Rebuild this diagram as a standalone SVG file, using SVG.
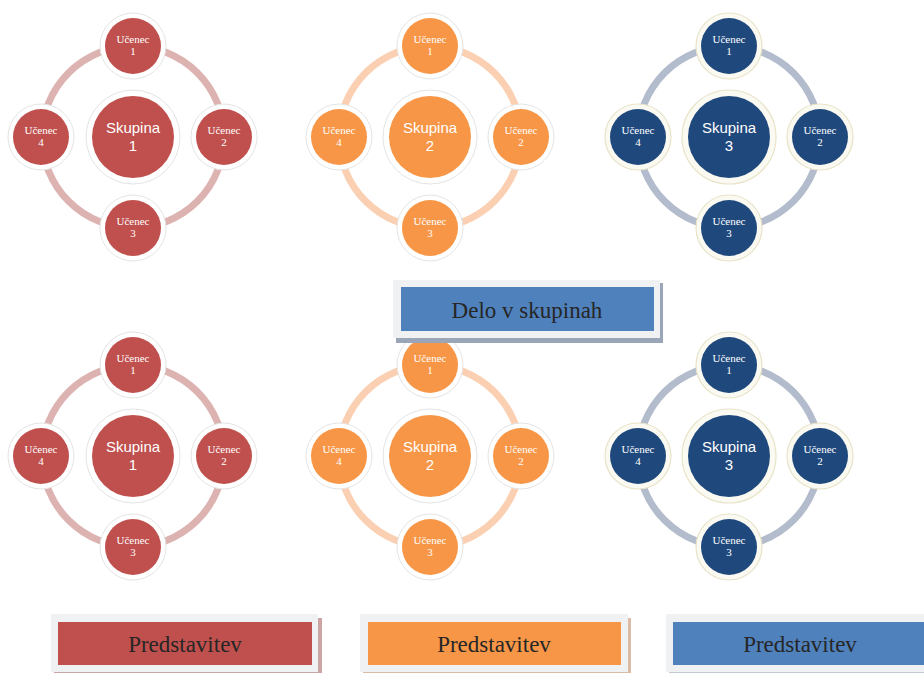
<svg xmlns="http://www.w3.org/2000/svg" width="924" height="673" viewBox="0 0 924 673">
<style>
.halo{fill:#ffffff;stroke:#e4e4e4;stroke-width:1}
.haloB{fill:#fbfaf2;stroke:#e8e3c8;stroke-width:1.2}
.red{fill:#c0504d}
.org{fill:#f79646}
.blu{fill:#1f497d}
.ringR{fill:none;stroke:#ddb3b2;stroke-width:7}
.ringO{fill:none;stroke:#fbd0b2;stroke-width:7}
.ringB{fill:none;stroke:#b3bccc;stroke-width:7}
.sk{font-family:"Liberation Sans",Arial,sans-serif;font-size:15px;fill:#ffffff;text-anchor:middle}
.uc{font-family:"Liberation Serif","Times New Roman",serif;font-size:11px;fill:#ffffff;text-anchor:middle}
.lbl{font-family:"Liberation Serif","Times New Roman",serif;font-size:23px;fill:#262626;text-anchor:middle}
.outer{fill:#f0f1f3}
</style>
<defs>
<g id="ringpath">
<path d="M0,-91 A91,91 0 0 1 91,0"/>
<path d="M91,0 A91,91 0 0 1 0,91"/>
<path d="M0,91 A91,91 0 0 1 -91,0"/>
<path d="M-91,0 A91,91 0 0 1 0,-91"/>
</g>
</defs>

<g id="connectors">
<use href="#ringpath" class="ringR" transform="translate(133,137)"/>
<use href="#ringpath" class="ringO" transform="translate(430,137)"/>
<use href="#ringpath" class="ringB" transform="translate(729,137)"/>
<use href="#ringpath" class="ringR" transform="translate(133,456)"/>
<use href="#ringpath" class="ringO" transform="translate(430,456)"/>
<use href="#ringpath" class="ringB" transform="translate(729,456)"/>
</g>

<!-- Cluster top red -->
<g id="t-red-center"><circle class="halo" cx="133" cy="137" r="47"/><circle class="red" cx="133" cy="137" r="41"/><text class="sk" x="133" y="133">Skupina</text><text class="sk" x="133" y="151">1</text></g>
<g id="t-red-u1"><circle class="halo" cx="133" cy="46" r="33"/><circle class="red" cx="133" cy="46" r="28"/><text class="uc" x="133" y="43">Učenec</text><text class="uc" x="133" y="55">1</text></g>
<g id="t-red-u2"><circle class="halo" cx="224" cy="137" r="33"/><circle class="red" cx="224" cy="137" r="28"/><text class="uc" x="224" y="134">Učenec</text><text class="uc" x="224" y="146">2</text></g>
<g id="t-red-u3"><circle class="halo" cx="133" cy="228" r="33"/><circle class="red" cx="133" cy="228" r="28"/><text class="uc" x="133" y="225">Učenec</text><text class="uc" x="133" y="237">3</text></g>
<g id="t-red-u4"><circle class="halo" cx="41" cy="137" r="33"/><circle class="red" cx="41" cy="137" r="28"/><text class="uc" x="41" y="134">Učenec</text><text class="uc" x="41" y="146">4</text></g>

<!-- Cluster top orange -->
<g id="t-org-center"><circle class="halo" cx="430" cy="137" r="47"/><circle class="org" cx="430" cy="137" r="41"/><text class="sk" x="430" y="133">Skupina</text><text class="sk" x="430" y="151">2</text></g>
<g id="t-org-u1"><circle class="halo" cx="430" cy="46" r="33"/><circle class="org" cx="430" cy="46" r="28"/><text class="uc" x="430" y="43">Učenec</text><text class="uc" x="430" y="55">1</text></g>
<g id="t-org-u2"><circle class="halo" cx="521" cy="137" r="33"/><circle class="org" cx="521" cy="137" r="28"/><text class="uc" x="521" y="134">Učenec</text><text class="uc" x="521" y="146">2</text></g>
<g id="t-org-u3"><circle class="halo" cx="430" cy="228" r="33"/><circle class="org" cx="430" cy="228" r="28"/><text class="uc" x="430" y="225">Učenec</text><text class="uc" x="430" y="237">3</text></g>
<g id="t-org-u4"><circle class="halo" cx="339" cy="137" r="33"/><circle class="org" cx="339" cy="137" r="28"/><text class="uc" x="339" y="134">Učenec</text><text class="uc" x="339" y="146">4</text></g>

<!-- Cluster top blue -->
<g id="t-blu-center"><circle class="haloB" cx="729" cy="137" r="47"/><circle class="blu" cx="729" cy="137" r="41"/><text class="sk" x="729" y="133">Skupina</text><text class="sk" x="729" y="151">3</text></g>
<g id="t-blu-u1"><circle class="haloB" cx="729" cy="46" r="33"/><circle class="blu" cx="729" cy="46" r="28"/><text class="uc" x="729" y="43">Učenec</text><text class="uc" x="729" y="55">1</text></g>
<g id="t-blu-u2"><circle class="haloB" cx="820" cy="137" r="33"/><circle class="blu" cx="820" cy="137" r="28"/><text class="uc" x="820" y="134">Učenec</text><text class="uc" x="820" y="146">2</text></g>
<g id="t-blu-u3"><circle class="haloB" cx="729" cy="228" r="33"/><circle class="blu" cx="729" cy="228" r="28"/><text class="uc" x="729" y="225">Učenec</text><text class="uc" x="729" y="237">3</text></g>
<g id="t-blu-u4"><circle class="haloB" cx="638" cy="137" r="33"/><circle class="blu" cx="638" cy="137" r="28"/><text class="uc" x="638" y="134">Učenec</text><text class="uc" x="638" y="146">4</text></g>

<!-- Cluster bottom red -->
<g id="b-red-center"><circle class="halo" cx="133" cy="456" r="47"/><circle class="red" cx="133" cy="456" r="41"/><text class="sk" x="133" y="452">Skupina</text><text class="sk" x="133" y="470">1</text></g>
<g id="b-red-u1"><circle class="halo" cx="133" cy="365" r="33"/><circle class="red" cx="133" cy="365" r="28"/><text class="uc" x="133" y="362">Učenec</text><text class="uc" x="133" y="374">1</text></g>
<g id="b-red-u2"><circle class="halo" cx="224" cy="456" r="33"/><circle class="red" cx="224" cy="456" r="28"/><text class="uc" x="224" y="453">Učenec</text><text class="uc" x="224" y="465">2</text></g>
<g id="b-red-u3"><circle class="halo" cx="133" cy="547" r="33"/><circle class="red" cx="133" cy="547" r="28"/><text class="uc" x="133" y="544">Učenec</text><text class="uc" x="133" y="556">3</text></g>
<g id="b-red-u4"><circle class="halo" cx="41" cy="456" r="33"/><circle class="red" cx="41" cy="456" r="28"/><text class="uc" x="41" y="453">Učenec</text><text class="uc" x="41" y="465">4</text></g>

<!-- Cluster bottom orange -->
<g id="b-org-center"><circle class="halo" cx="430" cy="456" r="47"/><circle class="org" cx="430" cy="456" r="41"/><text class="sk" x="430" y="452">Skupina</text><text class="sk" x="430" y="470">2</text></g>
<g id="b-org-u1"><circle class="halo" cx="430" cy="365" r="33"/><circle class="org" cx="430" cy="365" r="28"/><text class="uc" x="430" y="362">Učenec</text><text class="uc" x="430" y="374">1</text></g>
<g id="b-org-u2"><circle class="halo" cx="521" cy="456" r="33"/><circle class="org" cx="521" cy="456" r="28"/><text class="uc" x="521" y="453">Učenec</text><text class="uc" x="521" y="465">2</text></g>
<g id="b-org-u3"><circle class="halo" cx="430" cy="547" r="33"/><circle class="org" cx="430" cy="547" r="28"/><text class="uc" x="430" y="544">Učenec</text><text class="uc" x="430" y="556">3</text></g>
<g id="b-org-u4"><circle class="halo" cx="339" cy="456" r="33"/><circle class="org" cx="339" cy="456" r="28"/><text class="uc" x="339" y="453">Učenec</text><text class="uc" x="339" y="465">4</text></g>

<!-- Cluster bottom blue -->
<g id="b-blu-center"><circle class="haloB" cx="729" cy="456" r="47"/><circle class="blu" cx="729" cy="456" r="41"/><text class="sk" x="729" y="452">Skupina</text><text class="sk" x="729" y="470">3</text></g>
<g id="b-blu-u1"><circle class="haloB" cx="729" cy="365" r="33"/><circle class="blu" cx="729" cy="365" r="28"/><text class="uc" x="729" y="362">Učenec</text><text class="uc" x="729" y="374">1</text></g>
<g id="b-blu-u2"><circle class="haloB" cx="820" cy="456" r="33"/><circle class="blu" cx="820" cy="456" r="28"/><text class="uc" x="820" y="453">Učenec</text><text class="uc" x="820" y="465">2</text></g>
<g id="b-blu-u3"><circle class="haloB" cx="729" cy="547" r="33"/><circle class="blu" cx="729" cy="547" r="28"/><text class="uc" x="729" y="544">Učenec</text><text class="uc" x="729" y="556">3</text></g>
<g id="b-blu-u4"><circle class="haloB" cx="638" cy="456" r="33"/><circle class="blu" cx="638" cy="456" r="28"/><text class="uc" x="638" y="453">Učenec</text><text class="uc" x="638" y="465">4</text></g>

<!-- Label boxes -->
<g id="delo">
<rect x="396" y="283" width="267" height="60" fill="#9aa6b8"/>
<rect class="outer" x="393" y="280" width="267" height="58"/>
<rect x="401" y="287" width="253" height="44" fill="#4f81bd"/>
<text class="lbl" x="527" y="318">Delo v skupinah</text>
</g>
<g id="pred-red">
<rect x="54" y="618" width="268" height="56" fill="#caa5a4"/>
<rect class="outer" x="51" y="614" width="267" height="58"/>
<rect x="58" y="622" width="254" height="43" fill="#c0504d"/>
<text class="lbl" x="185" y="652">Predstavitev</text>
</g>
<g id="pred-org">
<rect x="363" y="618" width="268" height="56" fill="#dcbba4"/>
<rect class="outer" x="360" y="614" width="268" height="58"/>
<rect x="368" y="622" width="253" height="43" fill="#f79646"/>
<text class="lbl" x="494" y="652">Predstavitev</text>
</g>
<g id="pred-blu">
<rect x="669" y="618" width="258" height="56" fill="#c3cad6"/>
<rect class="outer" x="666" y="614" width="258" height="58"/>
<rect x="673" y="622" width="251" height="43" fill="#4f81bd"/>
<text class="lbl" x="800" y="652">Predstavitev</text>
</g>
</svg>
